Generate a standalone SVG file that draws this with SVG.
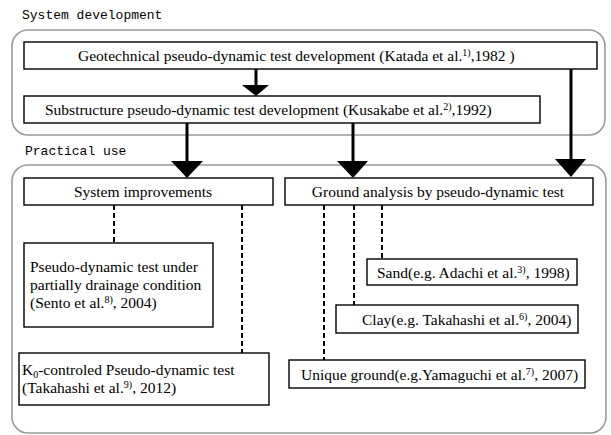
<svg xmlns="http://www.w3.org/2000/svg" width="611" height="435" viewBox="0 0 611 435">
<style>
.frame{fill:none;stroke:#999;stroke-width:1.6}
.box{fill:#fff;stroke:#000;stroke-width:1.4}
.t{font-family:"Liberation Serif","Times New Roman",serif;font-size:15.5px;fill:#000}
.m{font-family:"Liberation Mono","DejaVu Sans Mono",monospace;font-size:13px;fill:#000}
.sup{font-size:10px}
.stem{stroke:#000;stroke-width:3;fill:none}
.head{fill:#000}
.dash{stroke:#000;stroke-width:2;stroke-dasharray:5,3;fill:none}
</style>
<rect width="611" height="435" fill="#fff"/>
<g id="frames">
<rect class="frame" x="12" y="30" width="593" height="105" rx="16"/>
<rect class="frame" x="12" y="165" width="594" height="268" rx="16"/>
<text class="m" x="22" y="19">System development</text>
<text class="m" x="25" y="155">Practical use</text>
</g>
<g id="connectors">
<line class="stem" x1="256" y1="69" x2="256" y2="86"/>
<polygon class="head" points="242,85 269,85 256,96"/>
<line class="stem" x1="571" y1="69" x2="571" y2="160"/>
<polygon class="head" points="555,159 586,159 571,177"/>
<line class="stem" x1="187" y1="123" x2="187" y2="162"/>
<polygon class="head" points="171,161 203,161 187,178"/>
<line class="stem" x1="353" y1="123" x2="353" y2="162"/>
<polygon class="head" points="337,161 368,161 353,178"/>
<line class="dash" x1="114" y1="205" x2="114" y2="243"/>
<line class="dash" x1="242" y1="205" x2="242" y2="353"/>
<line class="dash" x1="324" y1="205" x2="324" y2="360"/>
<line class="dash" x1="354" y1="205" x2="354" y2="305"/>
<line class="dash" x1="382" y1="205" x2="382" y2="259"/>
</g>
<g id="geotechnical">
<rect class="box" x="24" y="42" width="573" height="27"/>
<text class="t" x="78" y="61">Geotechnical pseudo-dynamic test development (Katada et al.<tspan class="sup" dy="-5">1)</tspan><tspan dy="5">,1982 )</tspan></text>
</g>
<g id="substructure">
<rect class="box" x="24" y="96" width="516" height="27"/>
<text class="t" x="45" y="114.5">Substructure pseudo-dynamic test development (Kusakabe et al.<tspan class="sup" dy="-5">2)</tspan><tspan dy="5">,1992)</tspan></text>
</g>
<g id="system-improvements">
<rect class="box" x="24" y="178" width="249" height="27"/>
<text class="t" x="143" y="196.5" text-anchor="middle">System improvements</text>
</g>
<g id="ground-analysis">
<rect class="box" x="285" y="178" width="308" height="27"/>
<text class="t" x="438" y="196.5" text-anchor="middle">Ground analysis by pseudo-dynamic test</text>
</g>
<g id="partially-drainage">
<rect class="box" x="24" y="243" width="189" height="84"/>
<text class="t" x="30" y="272">Pseudo-dynamic test under</text>
<text class="t" x="30" y="290">partially drainage condition</text>
<text class="t" x="30" y="308">(Sento et al.<tspan class="sup" dy="-5">8)</tspan><tspan dy="5">, 2004)</tspan></text>
</g>
<g id="k0-controlled">
<rect class="box" x="19" y="353" width="250" height="52"/>
<text class="t" x="22" y="375">K<tspan class="sup" dy="3">0</tspan><tspan dy="-3">-controled Pseudo-dynamic test</tspan></text>
<text class="t" x="22" y="393">(Takahashi et al.<tspan class="sup" dy="-5">9)</tspan><tspan dy="5">, 2012)</tspan></text>
</g>
<g id="sand">
<rect class="box" x="367" y="259" width="210" height="26"/>
<text class="t" x="377" y="277.5">Sand(e.g. Adachi et al.<tspan class="sup" dy="-5">3)</tspan><tspan dy="5">, 1998)</tspan></text>
</g>
<g id="clay">
<rect class="box" x="336" y="305" width="242" height="28"/>
<text class="t" x="362" y="324.5">Clay(e.g. Takahashi et al.<tspan class="sup" dy="-5">6)</tspan><tspan dy="5">, 2004)</tspan></text>
</g>
<g id="unique-ground">
<rect class="box" x="289" y="360" width="296" height="28"/>
<text class="t" x="301" y="379.5">Unique ground(e.g.Yamaguchi et al.<tspan class="sup" dy="-5">7)</tspan><tspan dy="5">, 2007)</tspan></text>
</g>
</svg>
